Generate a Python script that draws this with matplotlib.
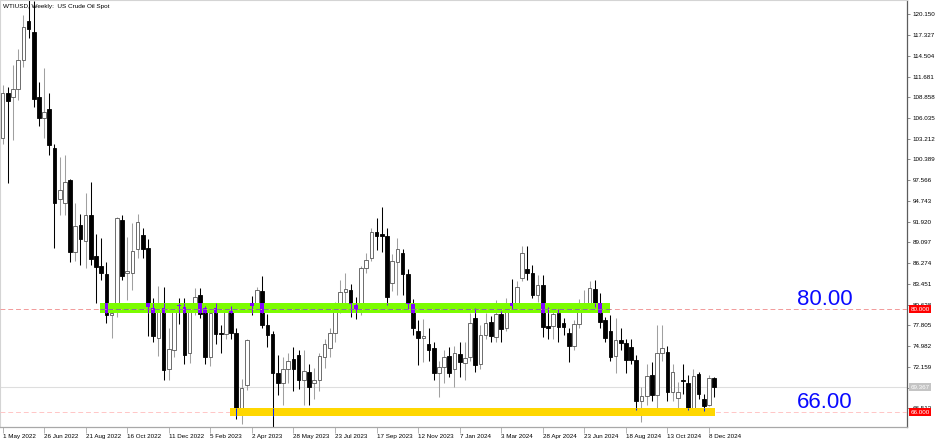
import matplotlib
matplotlib.use("Agg")
import matplotlib.pyplot as plt
import matplotlib.transforms as mtransforms
from matplotlib.patches import Rectangle
import numpy as np

# weekly WTI candles, week of 1 May 2022 .. 15 Dec 2024
opens = [103.3, 109.4, 108.9, 110.0, 114.0, 119.2, 117.8, 108.9, 106.1, 107.2,
         101.9, 95.0, 94.4, 97.6, 87.8, 91.5, 89.3, 92.8, 87.2, 85.9,
         84.8, 79.2, 79.6, 92.2, 84.9, 84.9, 88.2, 90.1, 88.3, 80.2,
         76.1, 80.2, 71.9, 74.4, 80.6, 80.3, 74.0, 80.3, 81.9, 80.2,
         73.5, 80.2, 76.8, 76.6, 79.7, 76.7, 66.5, 69.7, 80.9, 80.6,
         82.5, 77.8, 76.6, 71.3, 69.9, 71.9, 73.2, 73.8, 70.3, 71.4,
         69.9, 70.3, 73.5, 74.7, 76.7, 80.3, 82.3, 82.6, 80.6, 80.0,
         85.6, 87.0, 90.5, 90.2, 90.0, 83.6, 86.4, 87.6, 84.8, 80.7,
         77.0, 76.1, 75.2, 74.7, 71.3, 72.1, 73.6, 71.9, 73.9, 72.7,
         73.5, 78.8, 72.6, 76.5, 78.2, 76.2, 79.3, 77.5, 80.9, 80.9,
         84.2, 85.5, 85.0, 81.9, 83.3, 77.7, 77.7, 79.5, 78.1, 76.7,
         75.0, 78.0, 80.4, 80.9, 82.7, 80.9, 78.5, 77.0, 73.6, 75.8,
         75.4, 74.8, 73.1, 67.5, 68.2, 71.0, 68.3, 74.0, 74.2, 68.7,
         67.9, 70.3, 69.9, 66.6, 71.2, 67.8, 67.0, 70.6]
highs = [110.5, 110.2, 113.2, 115.5, 120.0, 122.5, 122.0, 111.0, 112.8, 109.5,
         102.5, 100.7, 101.0, 97.8, 94.4, 93.0, 95.8, 97.3, 90.2, 89.7,
         86.4, 80.8, 92.6, 92.8, 89.8, 91.7, 93.0, 91.0, 89.5, 81.5,
         83.2, 83.0, 77.5, 80.6, 81.5, 81.5, 80.7, 82.9, 82.9, 80.5,
         80.5, 80.9, 77.8, 80.4, 80.4, 77.5, 70.5, 75.9, 81.8, 83.0,
         84.5, 79.3, 77.0, 73.8, 73.5, 74.0, 74.8, 74.5, 74.5, 72.5,
         72.0, 74.0, 76.0, 77.5, 81.0, 84.0, 84.9, 83.5, 81.6, 85.9,
         87.6, 91.0, 92.4, 93.9, 91.0, 87.5, 89.7, 88.2, 85.5, 81.4,
         78.5, 78.6, 77.5, 75.5, 73.0, 74.5, 74.8, 75.0, 75.6, 75.5,
         79.5, 80.1, 77.9, 79.5, 79.1, 81.2, 79.8, 81.5, 84.1, 83.9,
         88.6, 88.6, 86.0, 84.6, 84.6, 80.3, 80.0, 80.0, 78.8, 77.5,
         78.5, 81.4, 82.6, 83.8, 84.0, 82.2, 79.0, 79.2, 78.8, 77.5,
         76.0, 76.0, 73.8, 69.4, 72.5, 72.8, 77.9, 77.9, 75.0, 72.5,
         70.1, 72.5, 71.0, 71.8, 71.5, 68.5, 71.0, 70.8]
lows = [102.5, 97.2, 103.0, 108.5, 113.0, 117.0, 107.5, 105.0, 103.3, 101.0,
        88.3, 92.8, 92.8, 86.4, 86.5, 86.0, 85.6, 86.0, 80.8, 84.0,
        78.1, 76.1, 79.0, 84.0, 81.2, 82.6, 87.0, 87.0, 76.3, 75.5,
        73.6, 70.4, 70.3, 73.5, 78.0, 72.5, 72.7, 79.2, 78.8, 72.5,
        72.3, 75.3, 74.0, 76.0, 76.0, 65.1, 64.4, 69.0, 79.2, 79.8,
        77.5, 74.9, 63.5, 68.3, 67.0, 70.0, 68.8, 69.2, 66.9, 67.0,
        67.8, 68.8, 72.0, 73.5, 75.5, 79.5, 80.0, 79.0, 78.6, 79.2,
        85.0, 86.5, 88.0, 87.8, 80.6, 82.5, 81.9, 81.9, 80.0, 76.5,
        72.4, 72.8, 73.0, 70.4, 68.0, 70.0, 70.8, 69.4, 70.8, 70.3,
        73.0, 71.4, 71.9, 76.0, 75.6, 75.5, 75.5, 77.0, 80.0, 80.3,
        83.8, 84.0, 81.5, 81.0, 76.2, 75.9, 76.0, 75.5, 76.5, 72.8,
        74.5, 77.5, 79.8, 80.5, 80.3, 77.5, 75.5, 73.0, 71.3, 74.5,
        71.3, 72.5, 66.3, 64.6, 67.0, 67.5, 66.3, 73.0, 67.5, 67.5,
        66.3, 68.5, 66.3, 66.3, 67.8, 66.2, 66.8, 68.0]
closes = [109.4, 108.3, 110.0, 114.0, 118.4, 118.1, 108.6, 106.1, 106.8, 102.3,
          94.4, 96.2, 97.3, 87.8, 91.3, 89.5, 92.8, 86.9, 85.7, 84.9,
          79.2, 79.5, 92.4, 84.5, 85.2, 87.9, 91.9, 88.2, 80.3, 76.3,
          80.4, 71.7, 74.6, 79.7, 80.4, 73.7, 80.3, 81.7, 79.4, 73.5,
          79.5, 76.6, 76.6, 79.6, 76.7, 66.6, 69.3, 75.8, 80.4, 82.6,
          77.8, 76.5, 71.3, 69.9, 71.9, 72.9, 71.9, 70.3, 71.6, 69.4,
          70.3, 73.6, 75.2, 76.7, 80.3, 82.3, 82.8, 80.7, 79.9, 85.6,
          86.7, 90.5, 90.0, 90.0, 81.7, 86.5, 88.2, 84.8, 80.7, 77.4,
          76.1, 76.3, 74.4, 71.3, 72.1, 73.5, 71.3, 74.0, 72.8, 73.4,
          78.1, 72.4, 76.5, 78.1, 76.3, 79.3, 77.3, 80.8, 80.5, 83.0,
          87.6, 84.9, 81.9, 83.3, 77.6, 77.5, 79.3, 77.6, 77.6, 75.0,
          78.0, 80.3, 80.9, 82.9, 80.9, 78.2, 76.1, 73.5, 75.8, 75.4,
          73.1, 73.1, 67.5, 68.2, 70.9, 68.3, 74.0, 74.7, 68.7, 71.4,
          68.7, 70.2, 66.6, 70.9, 68.5, 66.8, 70.6, 69.4]

date_labels = ["1 May 2022", "26 Jun 2022", "21 Aug 2022", "16 Oct 2022", "11 Dec 2022",
               "5 Feb 2023", "2 Apr 2023", "28 May 2023", "23 Jul 2023", "17 Sep 2023",
               "12 Nov 2023", "7 Jan 2024", "3 Mar 2024", "28 Apr 2024", "23 Jun 2024",
               "18 Aug 2024", "13 Oct 2024", "8 Dec 2024"]
price_ticks = ["120.150", "117.327", "114.504", "111.681", "108.858", "106.035", "103.212",
               "100.389", "97.566", "94.743", "91.920", "89.097", "86.274", "83.451",
               "80.628", "77.805", "74.982", "72.159", "69.336", "66.513"]

# zones drawn on the chart: (low, high, first bar, last bar)
green_zone = (79.5, 80.9, 18.8, 116.9)
yellow_zone = (65.45, 66.55, 43.8, 137.1)
level_hi = 80.0
level_lo = 66.0
bid = 69.367

opens = np.array(opens); highs = np.array(highs)
lows = np.array(lows); closes = np.array(closes)
x = np.arange(len(opens))
up = closes >= opens

fnt = "Liberation Sans"
fig = plt.figure(figsize=(9.36, 4.40), dpi=100)
ax = fig.add_axes([0.0005, 1 - 427 / 440, 907 / 936, 427 / 440 - 0.001])
ax.set_xlim(-0.4, 174.2)
ax.set_ylim(63.96, 122.05)

# wicks + bodies
ax.vlines(x[up], lows[up], highs[up], color="#a0a0a0", lw=0.75, zorder=2)
ax.vlines(x[~up], lows[~up], highs[~up], color="black", lw=0.75, zorder=2)
lo_b = np.minimum(opens, closes)
h_b = np.maximum(np.abs(closes - opens), 0.12)
ax.bar(x[up], h_b[up], 0.7, lo_b[up], color="white", edgecolor="#555555", lw=0.6, zorder=3)
ax.bar(x[~up], h_b[~up], 0.7, lo_b[~up], color="black", edgecolor="black", lw=0.6, zorder=3)

# bid line
ax.axhline(bid, color="#dedede", lw=0.8, zorder=1)


def zone(z, col, inv):
    y0, y1, x0, x1 = z
    ax.add_patch(Rectangle((x0, y0), x1 - x0, y1 - y0, color=col, lw=0, zorder=4))
    for i in x[~up]:
        if i < x0 or i > x1:
            continue
        a = max(lo_b[i], y0)
        b = min(lo_b[i] + h_b[i], y1)
        if b > a:
            ax.bar(i, b - a, 0.7, a, color=inv, lw=0, zorder=5)
        wa = max(lows[i], y0)
        wb = min(highs[i], y1)
        if wb > wa:
            ax.vlines(i, wa, wb, color=inv, lw=0.75, zorder=5)


ax.axhline(level_lo, color="#ffc6c6", lw=0.7, ls=(0, (5, 3)), zorder=3.5)
zone(green_zone, "#7cfc00", "#8303ff")
zone(yellow_zone, "#ffd700", "#0028ff")
ax.axhline(level_hi, color="#f29a9a", lw=0.7, ls=(0, (5, 3)), zorder=6)
ax.hlines(level_hi, green_zone[2], green_zone[3], color="#7d7a93", lw=0.7,
          ls=(0, (5, 3)), zorder=6.5)

ax.text(152.9, level_hi + 0.55, "80.00", color="#0a0aff", fontsize=16, family=fnt,
        ha="left", va="baseline", zorder=7)
ax.text(152.9, level_lo + 0.6, "66.00", color="#0a0aff", fontsize=16, family=fnt,
        ha="left", va="baseline", zorder=7)

ax.text(0.003, 0.992, "WTIUSD, Weekly:  US Crude Oil Spot", transform=ax.transAxes,
        fontsize=4.6, family=fnt, ha="left", va="top", zorder=8)

# axes look
for s in ["top", "left"]:
    ax.spines[s].set_color("#d4d4d4")
    ax.spines[s].set_linewidth(0.8)
ax.spines["right"].set_color("#5c5c5c")
ax.spines["right"].set_linewidth(0.9)
ax.spines["bottom"].set_color("#a8a8a8")
ax.spines["bottom"].set_linewidth(0.9)

ax.set_xticks(x[::8])
ax.set_xticklabels(date_labels, ha="left", fontsize=4.5, family=fnt)
ax.tick_params(axis="x", length=4, width=0.5, color="#9a9a9a", pad=0.8)

ax.yaxis.tick_right()
ax.set_yticks([float(v) for v in price_ticks])
ax.set_yticklabels(price_ticks, fontsize=4.5, family=fnt)
ax.tick_params(axis="y", length=2, width=0.5, color="#5c5c5c", pad=1.5)

tr = mtransforms.blended_transform_factory(ax.transAxes, ax.transData)
for val, txt, bg in [(level_hi, "80.000", "#ff0000"), (level_lo, "66.000", "#ff0000"),
                     (bid, "69.367", "#c4c4c4")]:
    ax.text(1.0035, val, txt, transform=tr, fontsize=4.5, family=fnt, color="white",
            ha="left", va="center", clip_on=False, zorder=9,
            bbox=dict(boxstyle="square,pad=0.25", fc=bg, ec="none"))

fig.savefig("out.png", dpi=100)
